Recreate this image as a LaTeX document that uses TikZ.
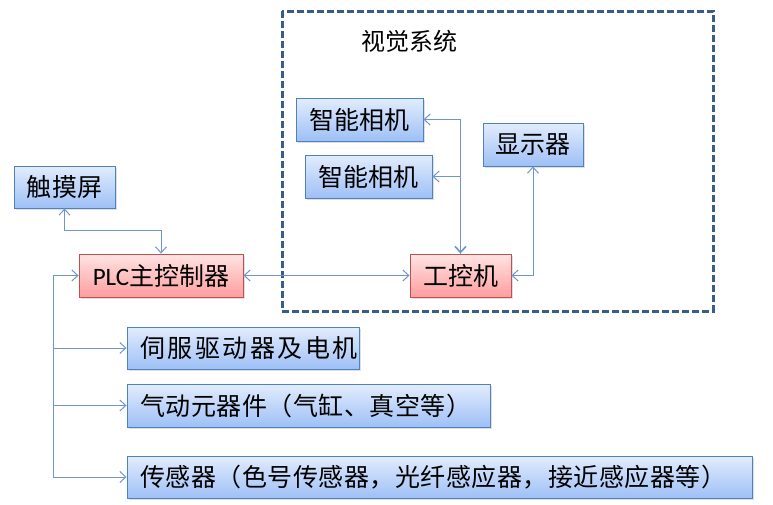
\documentclass[tikz,border=0pt]{standalone}
\usepackage{fontspec}
\newfontfamily\cjk{Noto Sans CJK SC}
\newfontfamily\carlito{Carlito}
\usetikzlibrary{arrows.meta,shadows,calc}
\definecolor{bluetop}{RGB}{226,236,253}
\definecolor{bluebot}{RGB}{158,192,246}
\definecolor{blueline}{RGB}{79,129,189}
\definecolor{redtop}{RGB}{255,228,228}
\definecolor{redbot}{RGB}{255,158,158}
\definecolor{redline}{RGB}{192,80,77}
\definecolor{conn}{RGB}{110,150,205}
\definecolor{dashc}{RGB}{56,93,138}
\begin{document}
\begin{tikzpicture}[x=1pt,y=-1pt,
  box/.style={draw=blueline, line width=0.9pt, top color=bluetop, bottom color=bluebot,
    minimum height=43pt, inner sep=0pt, font=\cjk\fontsize{25}{28}\selectfont,
    drop shadow={opacity=0.25, shadow xshift=1.5pt, shadow yshift=-1.5pt}},
  redbox/.style={box, draw=redline, top color=redtop, bottom color=redbot},
  leftbox/.style={box, align=left, inner xsep=13pt, text width=#1},
  conline/.style={draw=conn, line width=1pt},
  tip/.style={arrows={-{Straight Barb[length=6pt,width=11pt]}}},
  biarrow/.style={arrows={{Straight Barb[length=6pt,width=11pt]}-{Straight Barb[length=6pt,width=11pt]}}},
  backtip/.style={arrows={{Straight Barb[length=6pt,width=11pt]}-}}
]
\useasboundingbox (0,0) rectangle (773,504);

% vision system frame
\draw[dashc, line width=3pt, dash pattern=on 7pt off 3pt] (282,11) rectangle (713,311);
\node[font=\cjk\fontsize{24}{28}\selectfont, anchor=center] (vis) at (409,41) {视觉系统};

% boxes
\node[box, minimum width=101pt, minimum height=42pt] (touch) at (64.5,187) {触摸屏};
\node[redbox, minimum width=164pt] (plc) at (161,275.5) {{\carlito PLC}主控制器};
\node[redbox, minimum width=101pt] (ipc) at (460.5,275.5) {工控机};
\node[box, minimum width=127pt] (cam1) at (359.5,119.5) {智能相机};
\node[box, minimum width=127pt] (cam2) at (368.5,176.5) {智能相机};
\node[box, minimum width=100pt] (disp) at (533,144.5) {显示器};
\node[leftbox=206pt, minimum height=42pt] (servo) at (243,348)
  {\addfontfeature{LetterSpace=10}伺服驱动器及电机};
\node[leftbox=337pt] (pneu) at (308.5,405.5)
  {\addfontfeature{LetterSpace=2}气动元器件（气缸、真空等）};
\node[leftbox=599pt, minimum height=42pt] (sensor) at (439.5,477)
  {\addfontfeature{LetterSpace=2}传感器（色号传感器，光纤感应器，接近感应器等）};

% connectors
\coordinate (tj) at (161,230);
\draw[conline, biarrow] (touch.south) |- (tj) -- (plc.north);
\draw[conline, biarrow] (plc.east) -- (ipc.west);
\draw[conline, biarrow] (ipc.east) -| (disp.south);
\draw[conline, backtip] (cam1.east) -| (ipc.north);
\draw[conline, backtip] (cam2.east) -- (cam2.east -| ipc.north);
\draw[conline, line width=1.6pt, tip] (cam1.east -| ipc.north) -- (ipc.north);

\coordinate (b0) at (53,477);
\draw[conline, tip] (b0) |- (plc.west);
\draw[conline, tip] (b0) -- (sensor.west);
\draw[conline, tip] (servo.west -| b0) -- (servo.west);
\draw[conline, tip] (pneu.west -| b0) -- (pneu.west);
\end{tikzpicture}
\end{document}
